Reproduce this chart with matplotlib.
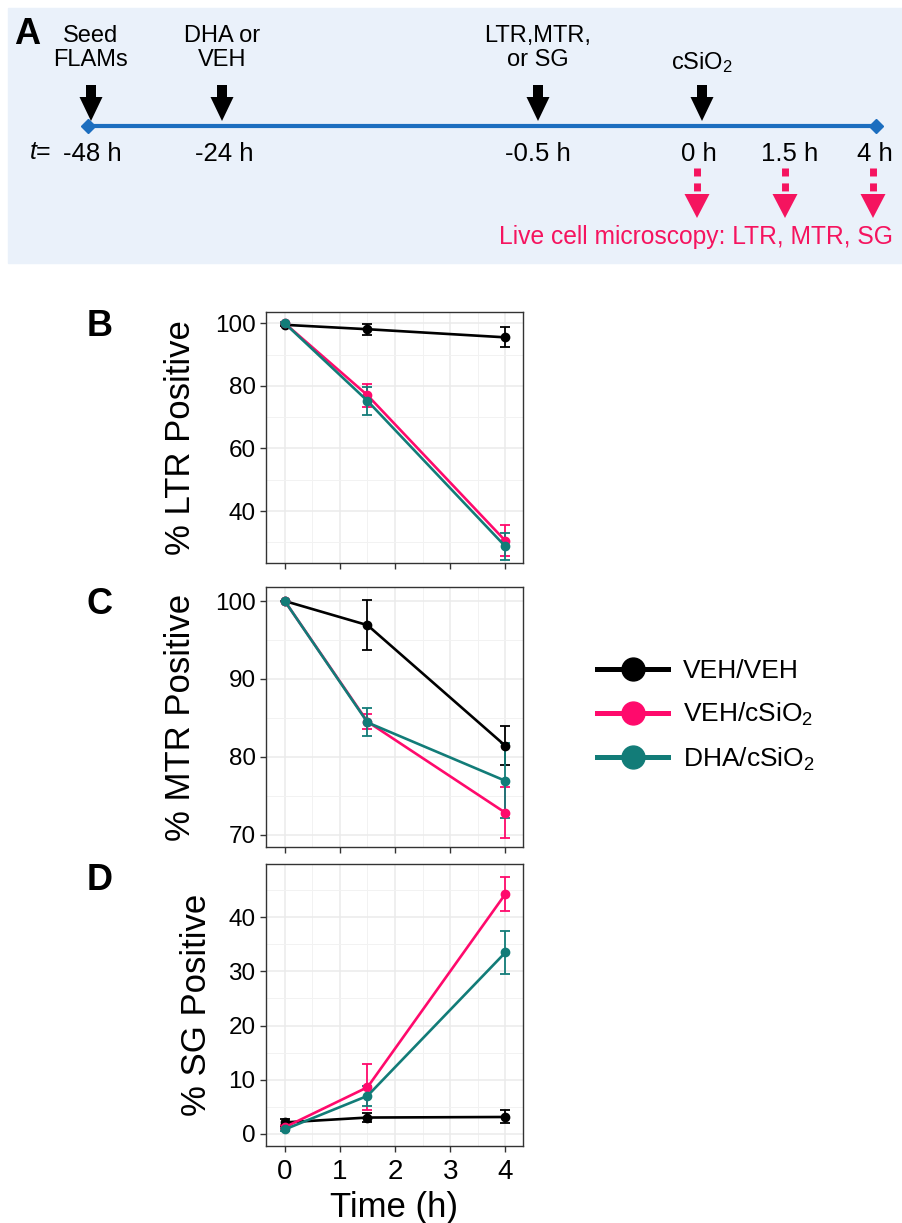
import matplotlib.pyplot as plt
from matplotlib.lines import Line2D
from matplotlib.patches import Rectangle

plt.rcParams['font.family'] = ['Liberation Sans', 'DejaVu Sans']
plt.rcParams['mathtext.fontset'] = 'custom'
plt.rcParams['mathtext.rm'] = 'Liberation Sans'
plt.rcParams['mathtext.it'] = 'Liberation Sans:italic'

# --- donnees ---
temps = [0, 1.5, 4]
groupes = ['VEH/VEH', 'VEH/cSiO$_2$', 'DHA/cSiO$_2$']
couleurs = ['black', '#FF0A6C', '#127C78']

ltr_veh_veh = [99.5, 98.1, 95.5]
ltr_veh_veh_err = [0.5, 1.8, 3.2]
ltr_veh_sio2 = [100, 77.0, 30.5]
ltr_veh_sio2_err = [0.3, 3.7, 5.0]
ltr_dha_sio2 = [100, 75.2, 28.7]
ltr_dha_sio2_err = [0.3, 4.4, 4.3]

mtr_veh_veh = [100, 96.9, 81.4]
mtr_veh_veh_err = [0, 3.2, 2.5]
mtr_veh_sio2 = [100, 84.5, 72.8]
mtr_veh_sio2_err = [0, 1.0, 3.3]
mtr_dha_sio2 = [100, 84.4, 76.9]
mtr_dha_sio2_err = [0, 1.8, 4.8]

sg_veh_veh = [2.1, 3.0, 3.1]
sg_veh_veh_err = [0.7, 0.8, 1.2]
sg_veh_sio2 = [1.2, 8.6, 44.3]
sg_veh_sio2_err = [0.4, 4.3, 3.1]
sg_dha_sio2 = [0.8, 7.0, 33.5]
sg_dha_sio2_err = [0.3, 1.9, 4.0]

# schema du protocole (panneau A)
etapes = ['Seed\nFLAMs', 'DHA or\nVEH', 'LTR,MTR,\nor SG', 'cSiO$_2$']
temps_schema = ['-48 h', '-24 h', '-0.5 h', '0 h', '1.5 h', '4 h']
mesures = 'Live cell microscopy: LTR, MTR, SG'

# positions du schema en pixels
x_etapes = [91, 222, 538, 702]
x_temps = [92, 224, 538, 699, 790, 875]
x_mesures = [697, 785, 873]

fig = plt.figure(figsize=(9.03, 12.23), dpi=100)
fond = fig.add_axes([0, 0, 1, 1])
fond.set_xlim(0, 903)
fond.set_ylim(1223, 0)
fond.axis('off')

fond.add_patch(Rectangle((8, 8), 895, 255, color='#EAF1FA', zorder=0))
fond.text(27, 35, 'A', fontsize=26, fontweight='bold', ha='center', va='center')
fond.plot([88, 876], [126, 126], color='#1C6EBF', lw=3.0, zorder=2)
fond.plot([88, 876], [126, 126], ls='', marker='D', ms=7, color='#1C6EBF', zorder=3)

y_texte = [48, 48, 48, 63]
for x, lab, yt in zip(x_etapes, etapes, y_texte):
    fond.text(x, yt, lab, fontsize=17, ha='center', va='center', linespacing=1.1)
    fond.arrow(x, 85, 0, 36, width=10, head_width=23, head_length=24,
               length_includes_head=True, color='black', lw=0, zorder=4)

fond.text(51, 152, '$t$=', fontsize=18, ha='right', va='center')
for x, lab in zip(x_temps, temps_schema):
    fond.text(x, 154, lab, fontsize=18.5, ha='center', va='center')

rose = '#F5145F'
for x in x_mesures:
    fond.plot([x, x], [168, 192], color=rose, lw=5, ls=(0, (1.15, 1.0)),
              solid_capstyle='butt', dash_capstyle='butt')
    fond.arrow(x, 194, 0, 24, width=0.1, head_width=25, head_length=24,
               length_includes_head=True, color=rose, lw=0)
fond.text(696, 237, mesures, fontsize=17.7, ha='center', va='center', color=rose)

# --- panneaux B, C, D ---
def placer(top, bottom, left=266, right=523):
    return fig.add_axes([left / 903, (1223 - bottom) / 1223,
                         (right - left) / 903, (bottom - top) / 1223])


def tracer(ax, series, erreurs, ylim, majeurs, mineurs, ylabel, lab_x):
    for y, e, c in zip(series, erreurs, couleurs):
        ax.errorbar(temps, y, yerr=e, color=c, lw=1.9, marker='o', ms=6,
                    capsize=3.6, elinewidth=1.3, capthick=1.3)
    ax.set_xlim(-0.34, 4.32)
    ax.set_ylim(*ylim)
    ax.set_xticks([0, 1, 2, 3, 4])
    ax.set_xticks([0.5, 1.5, 2.5, 3.5], minor=True)
    ax.set_yticks(majeurs)
    ax.set_yticks(mineurs, minor=True)
    ax.grid(True, which='major', color='#EBEBEB', lw=1.1)
    ax.grid(True, which='minor', color='#F2F2F2', lw=0.7)
    ax.set_axisbelow(True)
    for s in ax.spines.values():
        s.set_color('#333333')
        s.set_linewidth(1.0)
    ax.tick_params(which='major', length=4.5, width=1, color='#333333',
                   labelsize=17.5, pad=3)
    ax.tick_params(which='minor', length=0)
    ax.set_ylabel(ylabel, fontsize=25)
    ax.yaxis.set_label_coords(lab_x, 0.5)


ax_b = placer(312, 563)
tracer(ax_b, [ltr_veh_veh, ltr_veh_sio2, ltr_dha_sio2],
       [ltr_veh_veh_err, ltr_veh_sio2_err, ltr_dha_sio2_err],
       (23.4, 103.6), [40, 60, 80, 100], [30, 50, 70, 90], '% LTR Positive', -0.268)
ax_b.set_xticklabels([])

ax_c = placer(587, 847)
tracer(ax_c, [mtr_veh_veh, mtr_veh_sio2, mtr_dha_sio2],
       [mtr_veh_veh_err, mtr_veh_sio2_err, mtr_dha_sio2_err],
       (68.4, 101.8), [70, 80, 90, 100], [75, 85, 95], '% MTR Positive', -0.268)
ax_c.set_xticklabels([])

ax_d = placer(864, 1146)
tracer(ax_d, [sg_veh_veh, sg_veh_sio2, sg_dha_sio2],
       [sg_veh_veh_err, sg_veh_sio2_err, sg_dha_sio2_err],
       (-2.26, 49.85), [0, 10, 20, 30, 40], [5, 15, 25, 35, 45], '% SG Positive', -0.206)
ax_d.tick_params(axis='x', labelsize=20, pad=5)
ax_d.set_xlabel('Time (h)', fontsize=25, labelpad=4)

for lettre, yl in zip(['B', 'C', 'D'], [326, 605, 880]):
    fond.text(100, yl, lettre, fontsize=26, fontweight='bold', ha='center', va='center')

poignees = [Line2D([0], [0], color=c, lw=3.6, marker='o', ms=16.5) for c in couleurs]
fig.legend(poignees, groupes, loc='center left', bbox_to_anchor=(597 / 903, (1223 - 716) / 1223),
           frameon=False, fontsize=19, handlelength=2.7, handletextpad=0.55,
           labelspacing=0.66, borderpad=0, borderaxespad=0)

fig.savefig('out.png', dpi=100)
